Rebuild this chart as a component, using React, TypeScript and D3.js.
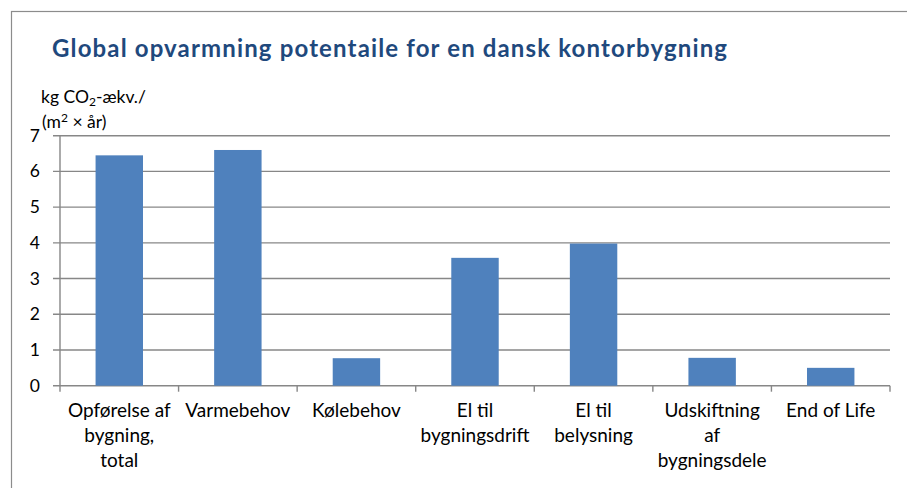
import React from "react";
import * as d3 from "d3";

const categories = [
  "Opførelse af\nbygning,\ntotal",
  "Varmebehov",
  "Kølebehov",
  "El til\nbygningsdrift",
  "El til\nbelysning",
  "Udskiftning\naf\nbygningsdele",
  "End of Life",
];
const values = [6.45, 6.6, 0.77, 3.58, 3.98, 0.78, 0.5];
const yTicks = [0, 1, 2, 3, 4, 5, 6, 7];

const title = "Global opvarmning potentaile for en dansk kontorbygning";

const W = 907;
const H = 488;
const margin = { top: 135.7, right: 17, bottom: 102.3, left: 60 };
const FONT = "Lato, 'Liberation Sans', sans-serif";
const BAR = "#4F81BD";
const GRID = "#878787";

export default function App() {
  const x = d3
    .scaleBand()
    .domain(categories)
    .range([margin.left, W - margin.right])
    .padding(0);
  const y = d3
    .scaleLinear()
    .domain([0, 7])
    .range([H - margin.bottom, margin.top]);

  const bw = x.bandwidth() * 0.4;
  const y0 = y(0);

  return (
    <svg
      width={W}
      height={H}
      style={{ position: "absolute", left: 0, top: 0, background: "#fff" }}
      fontFamily={FONT}
    >
      {/* chart frame, runs off the picture on the right and bottom */}
      <rect x={11.5} y={11.5} width={W} height={H} fill="none" stroke="#8c8c8c" strokeWidth={1.2} />

      <text x={52} y={57} fontSize={24} fontWeight="bold" fill="#1F497D" textLength={675} lengthAdjust="spacing">
        {title}
      </text>

      <text x={41} y={103} fontSize={17.5} fill="#000">
        kg CO<tspan dy={3} fontSize={12}>2</tspan>
        <tspan dy={-3}>-ækv./</tspan>
      </text>
      <text x={42} y={128} fontSize={17.5} fill="#000">
        (m<tspan dy={-6} fontSize={12}>2</tspan>
        <tspan dy={6}> × år)</tspan>
      </text>

      {yTicks.map((t) => (
        <g key={t}>
          <line x1={margin.left - 7} x2={W - margin.right} y1={y(t)} y2={y(t)} stroke={GRID} strokeWidth={1.4} />
          <text x={40} y={y(t) + 6} fontSize={17.5} textAnchor="end" fill="#000">
            {t}
          </text>
        </g>
      ))}

      <line x1={margin.left} x2={margin.left} y1={margin.top} y2={y0} stroke={GRID} strokeWidth={1.4} />

      {categories.map((c, i) => (
        <line
          key={"t" + i}
          x1={x(c)!}
          x2={x(c)!}
          y1={y0}
          y2={y0 + 6}
          stroke={GRID}
          strokeWidth={1.4}
        />
      ))}
      <line x1={W - margin.right} x2={W - margin.right} y1={y0} y2={y0 + 6} stroke={GRID} strokeWidth={1.4} />

      {categories.map((c, i) => (
        <rect
          key={"b" + i}
          x={x(c)! + (x.bandwidth() - bw) / 2}
          y={y(values[i])}
          width={bw}
          height={y0 - y(values[i])}
          fill={BAR}
        />
      ))}

      {categories.map((c, i) => (
        <text key={"l" + i} fontSize={19} textAnchor="middle" fill="#000">
          {c.split("\n").map((line, j) => (
            <tspan key={j} x={x(c)! + x.bandwidth() / 2} y={417 + j * 25}>
              {line}
            </tspan>
          ))}
        </text>
      ))}
    </svg>
  );
}
